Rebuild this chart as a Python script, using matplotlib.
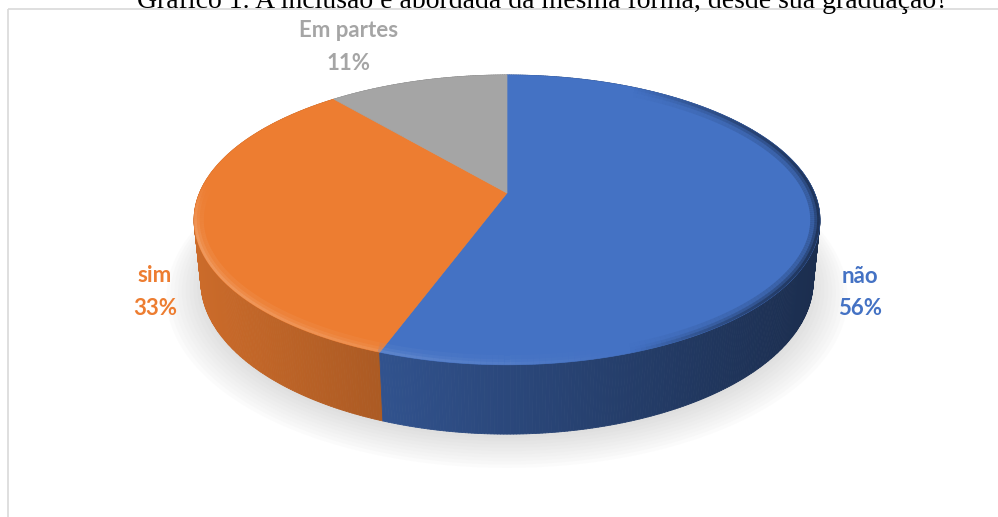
#!/usr/bin/env python3
"""3D pie chart: A inclusao e abordada da mesma forma, desde sua graduacao?"""

import numpy as np
import matplotlib
matplotlib.use('Agg')
import matplotlib.pyplot as plt
from matplotlib.patches import Polygon, Rectangle
from matplotlib.collections import PolyCollection, LineCollection
from matplotlib.colors import to_rgb

TITLE = 'Gráfico 1. A inclusão é abordada da mesma forma, desde sua graduação?'
labels = ['não', 'sim', 'Em partes']
counts = [5, 3, 1]
colors = ['#4472C4', '#ED7D31', '#A5A5A5']

# view parameters (pixels), perspective camera looking down on the disk
CX, CY = 507.0, 193.0
F = 1476.0
SA = 0.455
CA = np.sqrt(1 - SA ** 2)
DIST = 4.80
THICK = 0.225

##########################################################
def project(theta, r=1.0, h=0.0):
    """theta clockwise from the back of the disk, returns pixel x, y"""
    u = r * np.sin(theta)
    v = -r * np.cos(theta)
    depth = DIST - v * CA - h * SA
    x = CX + F * u / depth
    y = CY + F * (v * SA - h * CA) / depth
    return x, y, depth

def shade(c, f):
    return tuple(np.clip(np.array(to_rgb(c)) * f, 0, 1))

def mix(c, other, t):
    a = np.array(to_rgb(c))
    b = np.array(to_rgb(other))
    return tuple(a * (1 - t) + b * t)

##########################################################
def main():
    fig = plt.figure(figsize=(9.98, 5.17), dpi=100)
    ax = fig.add_axes([0, 0, 1, 1])
    ax.set_xlim(0, 998)
    ax.set_ylim(517, 0)
    ax.axis('off')

    # chart area border
    ax.add_patch(Rectangle((8.5, 8.5), 1100, 600, fill=False,
                           edgecolor='#D9D9D9', linewidth=1.2, zorder=1))

    fracs = np.array(counts, dtype=float) / np.sum(counts)
    bounds = np.concatenate([[0], np.cumsum(fracs)]) * 2 * np.pi

    # soft shadow under the pie
    tt = np.linspace(0, 2 * np.pi, 400)
    for k in range(10):
        r = 1.0 + 0.012 * k
        x, y, _ = project(tt, r, -THICK)
        ax.fill(x, y + 4 + 0.6 * k, color='#9A9A9A', alpha=0.03,
                linewidth=0, zorder=2)

    # side wall, drawn back to front
    n = 720
    th = np.linspace(0, 2 * np.pi, n + 1)
    quads, qcols, depths = [], [], []
    for i in range(n):
        a, b = th[i], th[i + 1]
        mid = 0.5 * (a + b)
        idx = np.searchsorted(bounds, mid) - 1
        x0, y0, d0 = project(a)
        x1, y1, d1 = project(b)
        x2, y2, _ = project(b, 1.0, -THICK)
        x3, y3, _ = project(a, 1.0, -THICK)
        quads.append([(x0, y0), (x1, y1), (x2, y2), (x3, y3)])
        t = np.clip((0.5 * (x0 + x1) - 193) / 627, 0, 1)
        qcols.append(shade(colors[idx], 0.86 - 0.46 * t))
        depths.append(0.5 * (d0 + d1))
    order = np.argsort(depths)[::-1]
    side = PolyCollection([quads[i] for i in order],
                          facecolors=[qcols[i] for i in order],
                          edgecolors=[qcols[i] for i in order],
                          linewidths=0.6, zorder=3)
    ax.add_collection(side)

    # top face
    for i in range(len(counts)):
        t = np.linspace(bounds[i], bounds[i + 1], 200)
        x, y, _ = project(t)
        pts = np.vstack([[CX, CY], np.column_stack([x, y])])
        ax.add_patch(Polygon(pts, closed=True, facecolor=colors[i],
                             edgecolor=colors[i], linewidth=0.5, zorder=4))

    # bevel along the rim: light at front-left, dark at right
    x, y, _ = project(tt)
    top_clip = Polygon(np.column_stack([x, y]), closed=True,
                       transform=ax.transData)
    for lw, al in [(14, 0.10), (8, 0.15), (4, 0.25)]:
        segs, cols = [], []
        for i in range(len(tt) - 1):
            mid = 0.5 * (tt[i] + tt[i + 1])
            idx = np.searchsorted(bounds, mid % (2 * np.pi)) - 1
            xm = 0.5 * (x[i] + x[i + 1])
            tx = np.clip((xm - 193) / 627, 0, 1)
            if tx > 0.7:
                c = shade(colors[idx], 0.35)
                a = al * (tx - 0.7) / 0.3 * 2.5
            else:
                v = -np.cos(mid)
                if v < -0.1:
                    continue
                c = mix(colors[idx], '#FFFFFF', 0.35)
                a = al * 1.6 * min(1.0, (v + 0.1) / 0.4) * (1 - tx / 0.7)
            segs.append([(x[i], y[i]), (x[i + 1], y[i + 1])])
            cols.append(c + (min(a, 1.0),))
        lc = LineCollection(segs, colors=cols, linewidths=lw, zorder=5)
        lc.set_clip_path(top_clip)
        ax.add_collection(lc)

    # data labels
    pos = [(860, 283, 315), (155, 282, 315), (349, 37, 70)]
    for i, lab in enumerate(labels):
        pct = '{:.0f}%'.format(100 * fracs[i])
        lx, y1, y2 = pos[i]
        for txt, yy in [(lab, y1), (pct, y2)]:
            ax.text(lx, yy, txt, ha='center', va='baseline', color=colors[i],
                    fontsize=16, fontweight='bold', family=['Lato', 'DejaVu Sans'],
                    zorder=6)

    # title, cut off at the top of the crop
    ax.text(543, 8, TITLE, ha='center', va='baseline', color='black',
            fontsize=20, family=['Liberation Serif', 'DejaVu Serif'], zorder=6)

    fig.savefig('out.png', dpi=100)

##########################################################
if __name__ == '__main__':
    main()
